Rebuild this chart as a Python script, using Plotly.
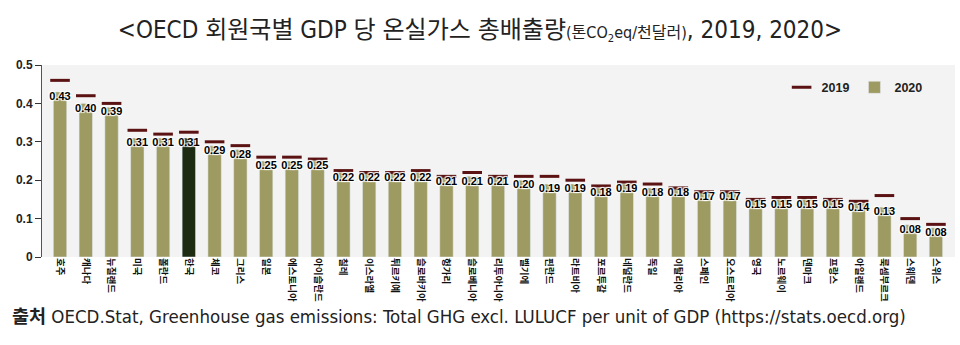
import plotly.graph_objects as go

countries = ["호주", "캐나다", "뉴질랜드", "미국", "폴란드", "한국", "체코", "그리스", "일본",
             "에스토니아", "아이슬란드", "칠레", "이스라엘", "튀르키예", "슬로바키아", "헝가리",
             "슬로베니아", "리투아니아", "벨기에", "핀란드", "라트비아", "포르투갈", "네덜란드",
             "독일", "이탈리아", "스페인", "오스트리아", "영국", "노르웨이", "덴마크", "프랑스",
             "아일랜드", "룩셈부르크", "스웨덴", "스위스"]

v2020 = [0.43, 0.40, 0.39, 0.31, 0.31, 0.31, 0.29, 0.28, 0.25, 0.25, 0.25,
         0.22, 0.22, 0.22, 0.22, 0.21, 0.21, 0.21, 0.20, 0.19, 0.19, 0.18, 0.19,
         0.18, 0.18, 0.17, 0.17, 0.15, 0.15, 0.15, 0.15, 0.14, 0.13, 0.084, 0.076]

v2019 = [0.46, 0.42, 0.40, 0.33, 0.32, 0.325, 0.30, 0.29, 0.26, 0.26, 0.255,
         0.225, 0.22, 0.22, 0.225, 0.21, 0.22, 0.21, 0.21, 0.21, 0.20, 0.185, 0.195,
         0.19, 0.18, 0.17, 0.17, 0.15, 0.155, 0.155, 0.15, 0.145, 0.16, 0.10, 0.085]

highlight = "한국"
bar_color = "#9e9b62"
hi_color = "#1d2b12"
dash_color = "#5a1212"

NARROW = "Liberation Sans Narrow, DejaVu Sans Condensed, Noto Sans CJK KR, sans-serif"
BOLD = "Liberation Sans, Arial, Noto Sans CJK KR, sans-serif"

colors = [hi_color if c == highlight else bar_color for c in countries]

fig = go.Figure()

fig.add_trace(go.Scatter(
    x=countries, y=v2019, name="2019", mode="markers",
    marker=dict(symbol="line-ew", size=14, line=dict(width=3, color=dash_color), color=dash_color),
    legendrank=1,
))

fig.add_trace(go.Bar(
    x=countries, y=v2020, name="2020", marker_color=colors, width=0.52,
    legendrank=2,
))

fig.add_trace(go.Scatter(
    x=countries, y=v2020, mode="text", showlegend=False,
    text=[f"{v:.2f}" for v in v2020], textposition="bottom center",
    textfont=dict(family=BOLD, size=11, color="#000", weight="bold",
                  shadow="1px 1px 1px #fff, -1px -1px 1px #fff, 1px -1px 1px #fff, -1px 1px 1px #fff"),
    cliponaxis=False,
))

title_text = ("&lt;OECD 회원국별 GDP 당 온실가스 총배출량"
              "<span style='font-size:16px'>(톤CO<sub>2</sub>eq/천달러)</span>, 2019, 2020&gt;")

fig.update_layout(
    width=960, height=345,
    margin=dict(l=42, r=5, t=65, b=88),
    paper_bgcolor="white", plot_bgcolor="#f3f3f3",
    title=dict(text=title_text, x=0.5, xanchor="center", y=1 - 30 / 345, yanchor="middle",
               font=dict(family=NARROW, size=24, color="#222")),
    showlegend=True,
    legend=dict(orientation="h", x=0.97, xanchor="right", y=0.96, yanchor="top",
                bgcolor="rgba(0,0,0,0)", font=dict(family=BOLD, size=12.5, color="#222", weight="bold"),
                itemwidth=30),
    xaxis=dict(range=[-0.70, 34.74], tickangle=90, showgrid=False, showline=False, ticks="",
               tickfont=dict(family="Noto Sans CJK KR", size=9.5, color="#111", weight="bold")),
    yaxis=dict(range=[0, 0.5], dtick=0.1, showgrid=False, zeroline=False, showline=True,
               linecolor="#555", linewidth=1, ticks="outside", ticklen=6, tickcolor="#333",
               tickfont=dict(family=BOLD, size=12, color="#222", weight="bold")),
)

fig.add_annotation(
    xref="paper", yref="paper", x=(10 - 42) / 913, y=(257 - 316) / 192,
    xanchor="left", yanchor="middle", showarrow=False,
    text="<b>출처</b> OECD.Stat, Greenhouse gas emissions: Total GHG excl. LULUCF per unit of GDP (https://stats.oecd.org)",
    font=dict(family=NARROW, size=18.5, color="#222"),
)

fig.write_html("out.html")
